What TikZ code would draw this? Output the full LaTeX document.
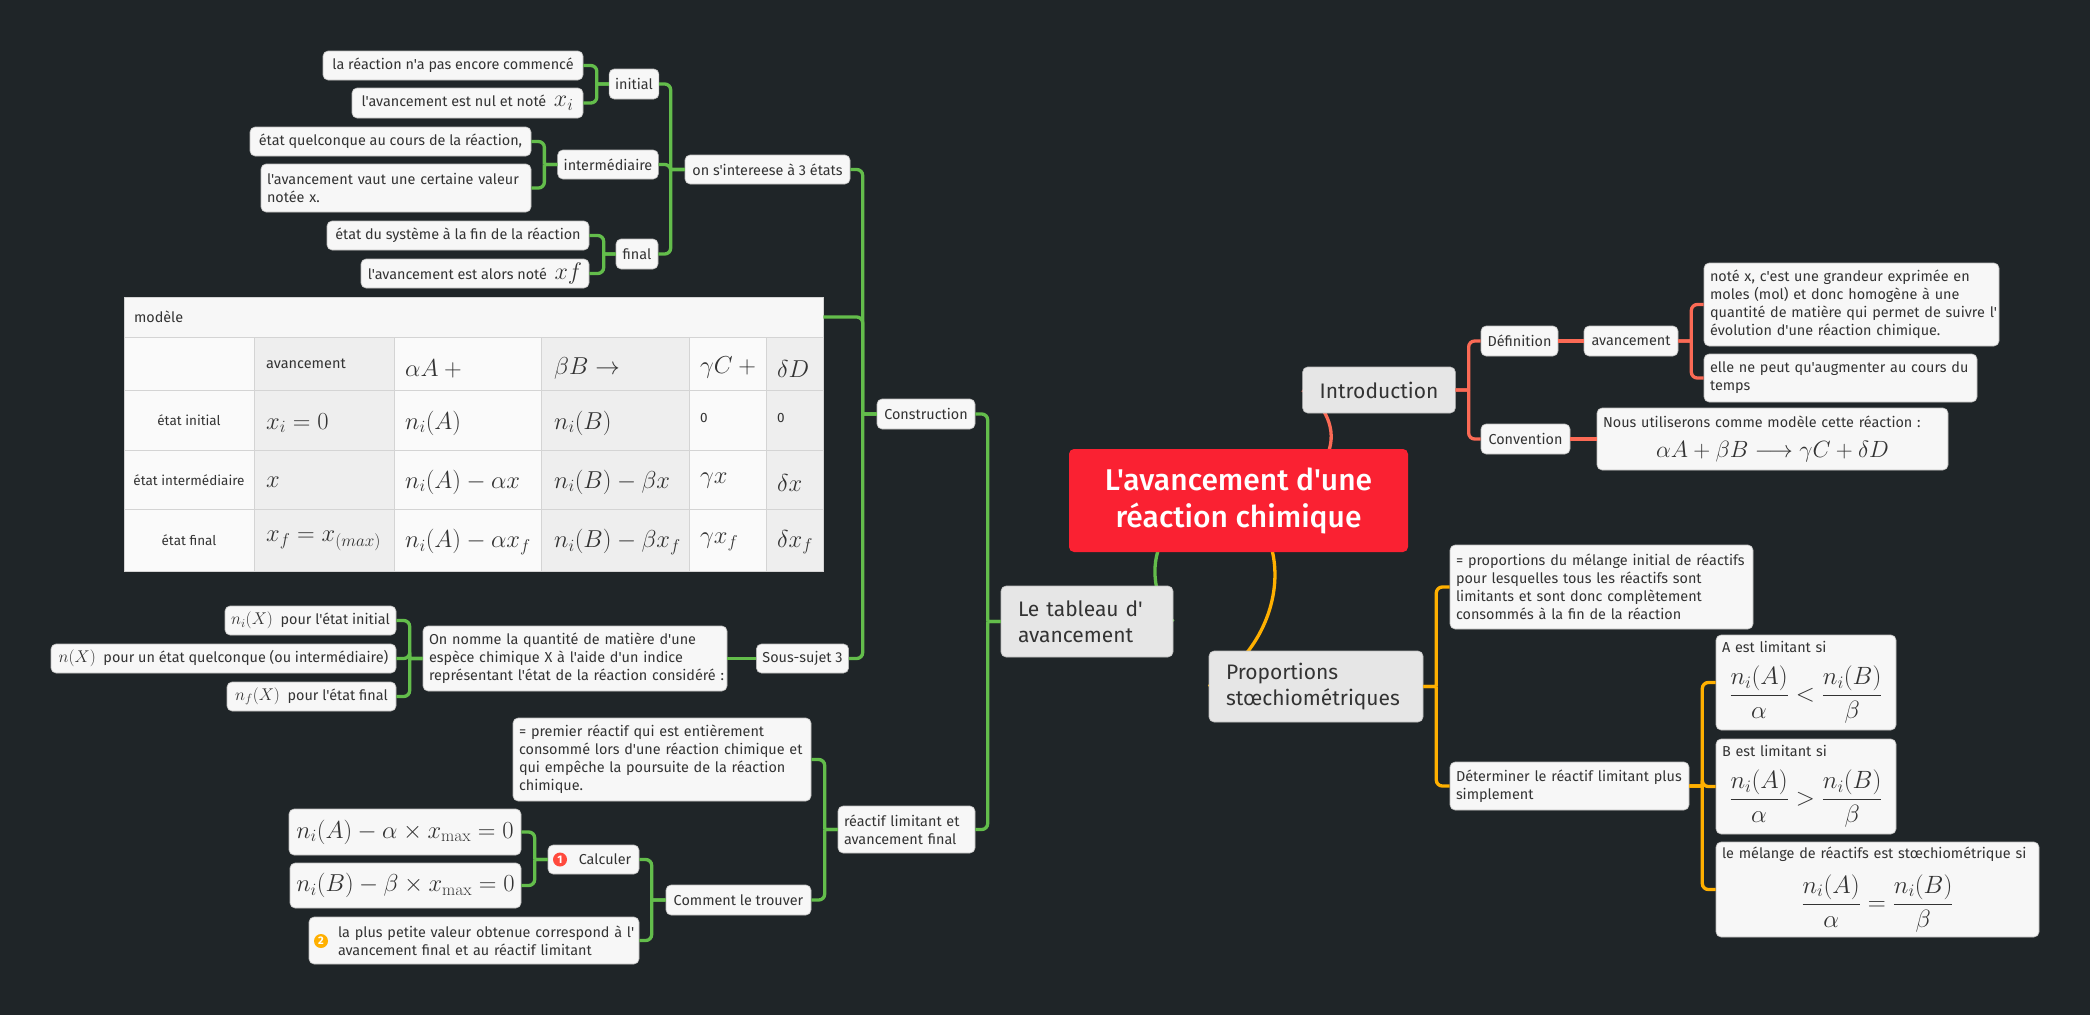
\documentclass[tikz,border=0pt]{standalone}
\usepackage{fix-cm}
\usepackage[no-math]{fontspec}
\setmainfont[Ligatures=TeXOff]{Fira Sans}
\newfontfamily\titlefont[Ligatures=TeXOff]{Fira Sans Medium}
\usetikzlibrary{backgrounds}
\definecolor{darkbg}{HTML}{1F2528}
\definecolor{boxfill}{HTML}{F7F7F7}
\definecolor{boxedge}{HTML}{BDBDBD}
\definecolor{subfill}{HTML}{E6E6E6}
\definecolor{mainred}{HTML}{FA2132}
\definecolor{inktext}{HTML}{333333}
\definecolor{grnline}{HTML}{63BD4B}
\definecolor{redline}{HTML}{FB6A55}
\definecolor{orgline}{HTML}{FFB000}
\definecolor{badgered}{HTML}{FF4A3D}
\definecolor{tabshade}{HTML}{EEEEEE}
\definecolor{tabwhite}{HTML}{FAFAFA}
\definecolor{tabrule}{HTML}{D4D4D4}
\newcommand{\bigmath}{\fontsize{24.5}{28}\selectfont}
\newcommand{\ratioline}[1]{\par\vspace{12pt}{\centering\fontsize{25}{30}\selectfont$\displaystyle\frac{n_i(A)}{\alpha}#1\frac{n_i(B)}{\beta}$\par}}
\tikzset{
leaf/.style={fill=boxfill, draw=boxedge, line width=0.6pt, rounded corners=5pt, inner xsep=6pt, inner ysep=0pt, text=inktext, align=left, font=\fontsize{14.4}{18}\selectfont},
sub/.style={leaf, fill=subfill, inner xsep=17pt, font=\fontsize{21}{26}\selectfont},
cell/.style={anchor=west, inner sep=0pt, text=inktext, font=\fontsize{13.5}{16}\selectfont},
cellmath/.style={anchor=west, inner sep=0pt, text=inktext, font=\bigmath},
badge/.style={circle, inner sep=0pt, minimum size=14pt, text=white, font=\fontsize{11}{11}\bfseries\selectfont},
kid/.style={to path={(\tikztostart) -- +(#1,0) +(#1,0) [rounded corners=6pt] |- (\tikztotarget)}},
wire/.style={line width=3.3pt},
}
\begin{document}
\begin{tikzpicture}[x=1pt,y=-1pt]
\useasboundingbox (0,0) rectangle (2090,1015);
\node[fill=mainred, rounded corners=5pt, minimum width=339, minimum height=103, text=white, align=center, font=\fontsize{30}{37}\titlefont] (main) at (1238.5,500.5) {L'avancement d'une\\réaction chimique};

\node[sub, minimum width=152, minimum height=46] (intro) at (1379,390) {Introduction};
\node[sub, minimum width=172, minimum height=71, text width=138] (tableau) at (1087,621.5) {Le tableau d'\\avancement};
\node[sub, minimum width=214, minimum height=71, text width=180] (prop) at (1316,686.5) {Proportions\\stœchiométriques};

\node[leaf, minimum width=77, minimum height=30] (defi) at (1519.5,341) {Définition};
\node[leaf, minimum width=94, minimum height=30] (avan) at (1631,341) {avancement};
\node[leaf, minimum height=83, text width=283] (note) at (1851.5,304.5) {noté x, c'est une grandeur exprimée en\\moles (mol) et donc homogène à une\\\mbox{quantité de matière qui permet de suivre l'}\\évolution d'une réaction chimique.};
\node[leaf, minimum height=48, text width=261] (peut) at (1840.5,378) {elle ne peut qu'augmenter au cours du\\temps};
\node[leaf, minimum width=89, minimum height=30] (conv) at (1525.5,439) {Convention};
\node[leaf, minimum height=62, text width=339] (nous) at (1772.5,439) {Nous utiliserons comme modèle cette réaction :\par\vspace{4pt}{\centering\fontsize{23.5}{26}\selectfont$\alpha A+\beta B\longrightarrow\gamma C+\delta D$\par}};

\node[leaf, minimum height=84, text width=291] (egal) at (1601.5,587) {= proportions du mélange initial de réactifs\\pour lesquelles tous les réactifs sont\\limitants et sont donc complètement\\consommés à la fin de la réaction};
\node[leaf, minimum height=48, text width=227] (dete) at (1569.5,786) {Déterminer le réactif limitant plus\\simplement};
\node[leaf, minimum height=95, text width=168] (alim) at (1806,682.5) {A est limitant si\ratioline{<}};
\node[leaf, minimum height=95, text width=168] (blim) at (1806,786.5) {B est limitant si\ratioline{>}};
\node[leaf, minimum height=95, text width=311] (melg) at (1877.5,889.5) {le mélange de réactifs est stœchiométrique si\ratioline{=}};

\node[leaf, minimum width=98, minimum height=30] (cons) at (926,414) {Construction};
\node[leaf, minimum height=47, text width=125] (reac) at (906.5,829.5) {réactif limitant et\\avancement final};
\node[leaf, minimum width=165, minimum height=29] (etat) at (767.5,169.5) {on s'intereese à 3 états};
\node[leaf, minimum width=48, minimum height=30] (init) at (634,84) {initial};
\node[leaf, minimum width=100, minimum height=29] (inte) at (608,164.5) {intermédiaire};
\node[leaf, minimum width=42, minimum height=30] (fina) at (637,254) {final};
\node[leaf, minimum width=260, minimum height=29] (pasc) at (453,65.5) {la réaction n'a pas encore commencé};
\node[leaf, minimum width=231, minimum height=30] (nulx) at (467.5,103) {l'avancement est nul et noté \ {\fontsize{24}{24}\selectfont$x_i$}};
\node[leaf, minimum width=281, minimum height=29] (quel) at (390.5,141.5) {état quelconque au cours de la réaction,};
\node[leaf, minimum height=48, text width=258] (vaut) at (396,188) {l'avancement vaut une certaine valeur\\notée x.};
\node[leaf, minimum width=262, minimum height=29] (syst) at (458,235.5) {état du système à la fin de la réaction};
\node[leaf, minimum width=228, minimum height=29] (alor) at (475,273.5) {l'avancement est alors noté \ {\fontsize{24}{24}\selectfont$xf$}};

\foreach \colx/\colw/\colc in {124/130/tabwhite,254/140/tabshade,394/147/tabwhite,541/148/tabshade,689/77/tabwhite,766/57/tabshade}
  \fill[\colc] (\colx,337) rectangle +(\colw,234);
\foreach \rowy in {390,450,509}
  \draw[tabrule, line width=1pt] (124,\rowy) -- (823,\rowy);
\foreach \colx in {254,394,541,689,766}
  \draw[tabrule, line width=0.8pt] (\colx,337) -- (\colx,571);
\draw[tabrule, line width=1pt] (124,297) rectangle (823,571);
\node[fill=boxfill, draw=tabrule, line width=0.8pt, minimum width=699, minimum height=40, text width=679, inner xsep=10pt, inner ysep=0pt, text=inktext, align=left, font=\fontsize{14.4}{18}\selectfont] (mode) at (473.5,317) {modèle};

\node[cell, font=\fontsize{14.5}{16}\selectfont] (t01) at (266,364) {avancement};
\node[cellmath] (t02) at (405,369) {$\alpha A+{}$};
\node[cellmath] (t03) at (554,368) {$\beta B\rightarrow$};
\node[cellmath] (t04) at (700,368) {$\gamma C+{}$};
\node[cellmath] (t05) at (777,369) {$\delta D$};
\node[cell, anchor=center] (t10) at (189,420) {état initial};
\node[cellmath] (t11) at (266,423) {$x_i=0$};
\node[cellmath] (t12) at (405,423) {$n_i(A)$};
\node[cellmath] (t13) at (554,423) {$n_i(B)$};
\node[cell] (t14) at (700,418) {0};
\node[cell] (t15) at (777,418) {0};
\node[cell, anchor=center] (t20) at (189,480) {état intermédiaire};
\node[cellmath] (t21) at (266,482) {$x$};
\node[cellmath] (t22) at (405,482) {$n_i(A)-\alpha x$};
\node[cellmath] (t23) at (554,482) {$n_i(B)-\beta x$};
\node[cellmath] (t24) at (700,481) {$\gamma x$};
\node[cellmath] (t25) at (777,483) {$\delta x$};
\node[cell, anchor=center] (t30) at (189,540) {état final};
\node[cellmath] (t31) at (266,541) {$x_f=x_{(max)}$};
\node[cellmath] (t32) at (405,542) {$n_i(A)-\alpha x_f$};
\node[cellmath] (t33) at (554,542) {$n_i(B)-\beta x_f$};
\node[cellmath] (t34) at (700,542) {$\gamma x_f$};
\node[cellmath] (t35) at (777,542) {$\delta x_f$};

\node[leaf, minimum width=91, minimum height=29] (sous) at (802.5,658.5) {Sous-sujet 3};
\node[leaf, minimum height=65, text width=292] (nomm) at (575,658.5) {On nomme la quantité de matière d'une\\espèce chimique X à l'aide d'un indice\\\mbox{représentant l'état de la réaction considéré :}};
\node[leaf, minimum width=171, minimum height=29] (nxin) at (310.5,620.5) {{\fontsize{17}{17}\selectfont$n_i(X)$} \ pour l'état initial};
\node[leaf, minimum width=345, minimum height=29] (nxqu) at (223.5,658.5) {{\fontsize{17}{17}\selectfont$n(X)$} \ pour un état quelconque (ou intermédiaire)};
\node[leaf, minimum width=169, minimum height=29] (nxfi) at (311.5,696.5) {{\fontsize{17}{17}\selectfont$n_f(X)$} \ pour l'état final};

\node[leaf, minimum height=83, text width=286] (prem) at (662,759.5) {= premier réactif qui est entièrement\\consommé lors d'une réaction chimique et\\qui empêche la poursuite de la réaction\\chimique.};
\node[leaf, minimum width=145, minimum height=30] (trou) at (738.5,900) {Comment le trouver};
\node[leaf, minimum width=91, minimum height=29] (calc) at (593.5,859.5) {\hspace*{23pt}Calculer};
\node[leaf, minimum height=47, text width=318] (plus) at (474,940.5) {\mbox{\hspace*{23pt}la plus petite valeur obtenue correspond à l'}\\\mbox{\hspace*{23pt}avancement final et au réactif limitant}};
\node[leaf, minimum width=232, minimum height=46, font=\bigmath] (eqa) at (405,832) {$n_i(A)-\alpha\times x_{\mathrm{max}}=0$};
\node[leaf, minimum width=231, minimum height=45, font=\bigmath] (eqb) at (405.5,885.5) {$n_i(B)-\beta\times x_{\mathrm{max}}=0$};
\node[badge, fill=badgered] (one) at (560,859.5) {1};
\node[badge, fill=orgline] (two) at (321,941) {2};

\begin{scope}[on background layer]
\fill[darkbg] (0,0) rectangle (2090,1015);
\draw[grnline, line width=3.3pt] (main.center) .. controls (1130,510) and (1150,600) .. (tableau.east);
\draw[redline, line width=3.3pt] (main.center) .. controls (1345,490) and (1350,420) .. (intro.west);
\draw[orgline, line width=3.3pt] (main.center) .. controls (1296,540) and (1285,640) .. (prop.west);
\end{scope}

\path[wire, grnline]
(tableau.west) edge[kid=-13] (cons.east) edge[kid=-13] (reac.east)
(cons.west) edge[kid=-14] (etat.east) edge[kid=-14] (mode.east) edge[kid=-14] (sous.east)
(etat.west) edge[kid=-14] (init.east) edge[kid=-14] (inte.east) edge[kid=-14] (fina.east)
(init.west) edge[kid=-12] (pasc.east) edge[kid=-12] (nulx.east)
(inte.west) edge[kid=-13] (quel.east) edge[kid=-13] (vaut.east)
(fina.west) edge[kid=-12] (syst.east) edge[kid=-12] (alor.east)
(sous.west) edge (nomm.east)
(nomm.west) edge[kid=-13] (nxin.east) edge[kid=-13] (nxqu.east) edge[kid=-13] (nxfi.east)
(reac.west) edge[kid=-13] (prem.east) edge[kid=-13] (trou.east)
(trou.west) edge[kid=-14] (calc.east) edge[kid=-14] (plus.east)
(calc.west) edge[kid=-13] (eqa.east) edge[kid=-13] (eqb.east);

\path[wire, redline]
(intro.east) edge[kid=13] (defi.west) edge[kid=13] (conv.west)
(defi.east) edge (avan.west)
(avan.east) edge[kid=13] (note.west) edge[kid=13] (peut.west)
(conv.east) edge (nous.west);

\path[wire, orgline]
(prop.east) edge[kid=13] (egal.west) edge[kid=13] (dete.west)
(dete.east) edge[kid=13] (alim.west) edge[kid=13] (blim.west) edge[kid=13] (melg.west);
\end{tikzpicture}
\end{document}
